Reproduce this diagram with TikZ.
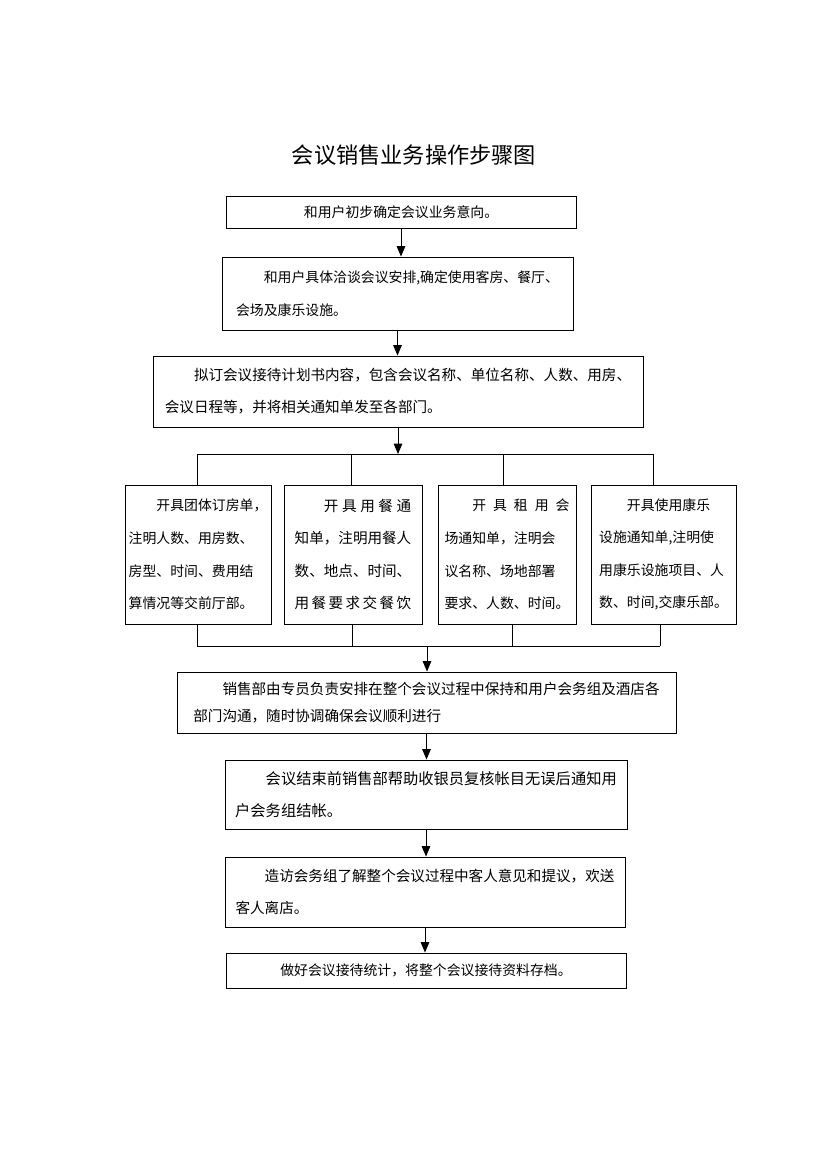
\documentclass[tikz,border=0pt]{standalone}
\usepackage{fontspec}
\setmainfont{Noto Sans CJK SC}
\usetikzlibrary{arrows}

\newcommand{\pxu}{0.7207pt}

\tikzset{
  box/.style={draw, line width=0.7pt, inner sep=0pt, align=left,
              font=\fontsize{10.5}{23}\selectfont},
  flow/.style={-triangle 45, line width=0.7pt},
  link/.style={line width=0.7pt}
}

\begin{document}
\begin{tikzpicture}[x=0.7207pt, y=-0.7207pt]

\useasboundingbox (0,0) rectangle (826,1169);

\node (title) at (414,155) [font=\fontsize{16}{16}\selectfont] {会议销售业务操作步骤图};

\node (b1) at (401,212) [box, minimum width=350*\pxu, minimum height=32*\pxu, font=\fontsize{10}{12}\selectfont]
  {和用户初步确定会议业务意向。};
\node (b2) at (397.5,293.5) [box, minimum width=351*\pxu, minimum height=73*\pxu, font=\fontsize{10}{23.8}\selectfont]
  {\hspace{2em}和用户具体洽谈会议安排,确定使用客房、餐厅、\\会场及康乐设施。};
\node (b3) at (398,391.5) [box, minimum width=490*\pxu, minimum height=71*\pxu]
  {\hspace{2em}拟订会议接待计划书内容，包含会议名称、单位名称、人数、用房、\\会议日程等，并将相关通知单发至各部门。};

% four departments
\node (bA) at (198,554.5) [box, minimum width=146*\pxu, minimum height=139*\pxu, font=\fontsize{10}{23.5}\selectfont]
  {\hspace{2em}开具团体订房单，\\注明人数、用房数、\\房型、时间、费用结\\算情况等交前厅部。};
\node (bB) at (353,554.5) [box, minimum width=138*\pxu, minimum height=139*\pxu, font=\fontsize{10.5}{23.5}\selectfont]
  {\makebox[8em][l]{\hspace{2em}开\hfill 具\hfill 用\hfill 餐\hfill 通}\\知单，注明用餐人\\数、地点、时间、\\\makebox[8em][l]{用\hfill 餐\hfill 要\hfill 求\hfill 交\hfill 餐\hfill 饮}};
\node (bC) at (507,554.5) [box, minimum width=138*\pxu, minimum height=139*\pxu, font=\fontsize{10}{23.5}\selectfont]
  {\makebox[9em][l]{\hspace{2em}开\hfill 具\hfill 租\hfill 用\hfill 会}\\场通知单，注明会\\议名称、场地部署\\要求、人数、时间。};
\node (bD) at (663.5,554.5) [box, minimum width=145*\pxu, minimum height=139*\pxu, font=\fontsize{10}{23.5}\selectfont]
  {\hspace{2em}开具使用康乐\\设施通知单,注明使\\用康乐设施项目、人\\数、时间,交康乐部。};

\node (bE) at (426.5,702.5) [box, minimum width=499*\pxu, minimum height=61*\pxu, font=\fontsize{10.5}{20}\selectfont]
  {\hspace{2em}销售部由专员负责安排在整个会议过程中保持和用户会务组及酒店各\\部门沟通，随时协调确保会议顺利进行};
\node (bF) at (426,794.5) [box, minimum width=402*\pxu, minimum height=69*\pxu, font=\fontsize{11}{23}\selectfont]
  {\hspace{2em}会议结束前销售部帮助收银员复核帐目无误后通知用\\户会务组结帐。};
\node (bG) at (425,892) [box, minimum width=400*\pxu, minimum height=70*\pxu]
  {\hspace{2em}造访会务组了解整个会议过程中客人意见和提议，欢送\\客人离店。};
\node (bH) at (426,970.5) [box, minimum width=400*\pxu, minimum height=35*\pxu, font=\fontsize{10}{12}\selectfont]
  {做好会议接待统计，将整个会议接待资料存档。};

\foreach \x/\n in {197/A,351/B,503/C,653/D}
    \coordinate (u\n) at (\x,454);
\foreach \x/\n in {197/A,352/B,512/C,660/D}
    \coordinate (d\n) at (\x,646);
\coordinate (m) at (427,646);

\draw[flow] (b1.south) -- (b1.south |- b2.north);
\draw[flow] (b2.south) -- (b2.south |- b3.north);
\draw[flow] (b3.south) -- (b3.south |- uA);

\draw[link] (uA) -- (uD);
\foreach \n in {A,B,C,D}
    \draw[link] (u\n) -- (u\n |- b\n.north);
\foreach \n in {A,B,C,D}
    \draw[link] (d\n |- b\n.south) -- (d\n);
\draw[link] (dA) -- (dD);

\draw[flow] (m) -- (m |- bE.north);
\draw[flow] (bE.south) -- (bE.south |- bF.north);
\draw[flow] (bF.south) -- (bF.south |- bG.north);
\draw[flow] (bG.south) -- (bG.south |- bH.north);

\end{tikzpicture}
\end{document}
